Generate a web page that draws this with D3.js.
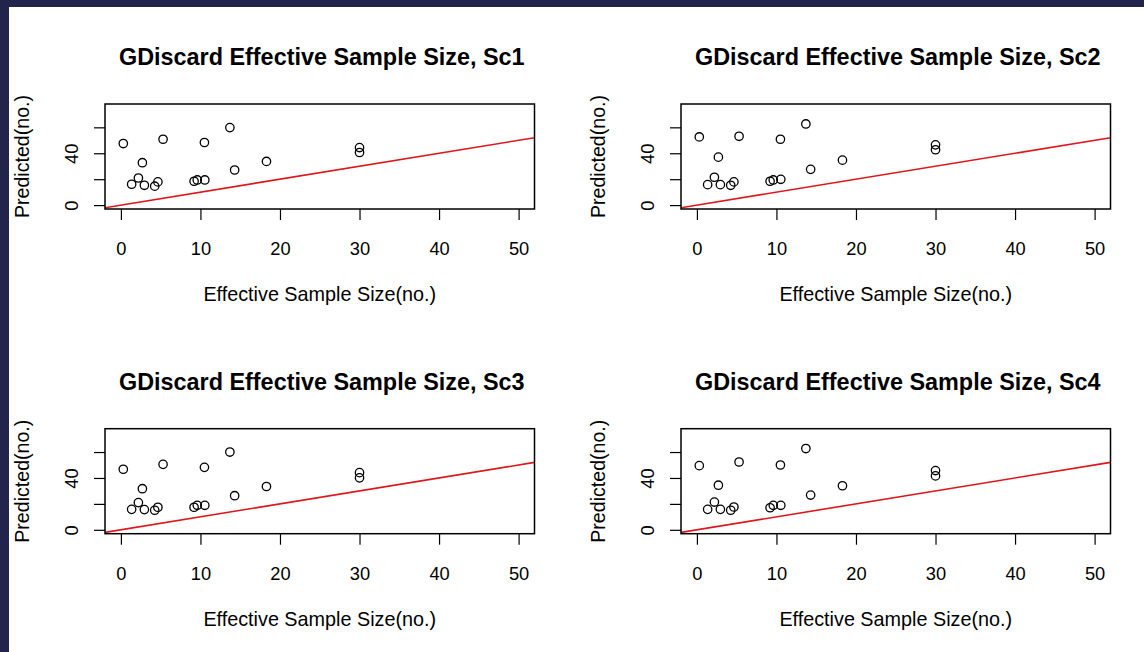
<!DOCTYPE html>
<html>
<head>
<meta charset="utf-8">
<script src="https://cdn.jsdelivr.net/npm/d3@7"></script>
<style>
  html, body { margin: 0; padding: 0; background: #22244b; }
  #chart { position: absolute; left: 9px; top: 7px; width: 1135px; height: 645px; background: #fff; }
  svg { display: block; }
  text { font-family: "Liberation Sans", Arial, sans-serif; fill: #000; }
</style>
</head>
<body>
<div id="chart"></div>
<script>
(function() {
    const width = 1144
    const height = 652

    // effective sample size (same for every scenario)
    const sampleSize = [0.3, 5.3, 10.5, 13.7, 2.7, 18.3, 14.3, 30, 30, 2.2, 1.35, 2.95, 4.25, 4.65, 9.2, 9.6, 10.55]
    // predicted values per scenario
    const predSc1 = [47.5, 50.8, 48.3, 59.8, 32.7, 33.7, 27.1, 44.4, 40.6, 20.9, 16.1, 15.3, 14.6, 17.9, 18.4, 19.4, 19.4]
    const predSc2 = [52.6, 53.1, 50.8, 62.6, 37.0, 34.7, 27.6, 46.5, 42.7, 21.5, 15.8, 15.8, 15.3, 17.9, 18.4, 19.4, 19.9]
    const predSc3 = [46.7, 50.5, 48.2, 60.0, 31.7, 33.4, 26.3, 44.1, 40.1, 21.0, 15.8, 15.6, 15.1, 17.4, 17.4, 18.9, 18.9]
    const predSc4 = [49.5, 52.3, 50.0, 62.7, 34.4, 34.0, 26.8, 45.7, 41.6, 21.4, 15.8, 15.8, 15.1, 17.6, 17.0, 18.9, 18.9]

    const titles = ['GDiscard Effective Sample Size, Sc1', 'GDiscard Effective Sample Size, Sc2',
                    'GDiscard Effective Sample Size, Sc3', 'GDiscard Effective Sample Size, Sc4']
    const xTicks = [0, 10, 20, 30, 40, 50]
    const yTicks = [0, 20, 40, 60]
    const yTickLabels = {0: '0', 40: '40'}
    const xDomain = [0, 50]
    const yDomain = [0, 75]

    const series = [predSc1, predSc2, predSc3, predSc4]

    // panel boxes in page coords
    const boxW = 429.5
    const boxH = 105
    const lefts = [105, 681]
    const tops = [104, 428.7]

    const svg = d3.select('#chart')
        .append('svg')
        .attr('width', width)
        .attr('height', height)
        .style('position', 'absolute')
        .style('left', '-9px')
        .style('top', '-7px')

    // R style 4% padding
    function pad(d) {
        const r = d[1] - d[0]
        return [d[0] - 0.04 * r, d[1] + 0.04 * r]
    }

    series.forEach((ys, i) => {
        const left = lefts[i % 2]
        const top = tops[Math.floor(i / 2)]

        const x = d3.scaleLinear().domain(pad(xDomain)).range([0, boxW])
        const y = d3.scaleLinear().domain(pad(yDomain)).range([boxH, 0])

        const g = svg.append('g')
            .attr('transform', 'translate(' + left + ',' + top + ')')

        g.append('text')
            .attr('x', boxW / 2 + 2)
            .attr('y', -39)
            .attr('text-anchor', 'middle')
            .style('font-size', '23.4px')
            .style('font-weight', 'bold')
            .text(titles[i])

        // x axis
        const xAxis = g.append('g')
            .attr('transform', 'translate(0,' + boxH + ')')
            .call(d3.axisBottom(x).tickValues(xTicks).tickSize(11).tickFormat(d3.format('d')))
        xAxis.select('.domain').remove()
        xAxis.selectAll('line').attr('stroke', '#000').attr('stroke-width', 1.2)
        xAxis.selectAll('text')
            .attr('y', 46)
            .attr('dy', 0)
            .style('font-size', '18.3px')
            .attr('fill', '#000')

        // y axis
        const yAxis = g.append('g')
            .call(d3.axisLeft(y).tickValues(yTicks).tickSize(11).tickFormat(d => yTickLabels[d] || ''))
        yAxis.select('.domain').remove()
        yAxis.selectAll('line').attr('stroke', '#000').attr('stroke-width', 1.2)
        yAxis.selectAll('text')
            .attr('x', 0)
            .attr('dy', 0)
            .attr('text-anchor', 'middle')
            .attr('transform', 'translate(-27,0) rotate(-90)')
            .style('font-size', '18.3px')
            .attr('fill', '#000')

        g.append('text')
            .attr('x', boxW / 2)
            .attr('y', boxH + 92)
            .attr('text-anchor', 'middle')
            .style('font-size', '19.8px')
            .text('Effective Sample Size(no.)')

        g.append('text')
            .attr('transform', 'translate(-76,' + (boxH / 2) + ') rotate(-90)')
            .attr('text-anchor', 'middle')
            .style('font-size', '19.6px')
            .text('Predicted(no.)')

        // clip for the 1:1 line
        const clipId = 'clip' + i
        g.append('clipPath').attr('id', clipId)
            .append('rect').attr('width', boxW).attr('height', boxH)

        const lo = pad(xDomain)[0], hi = pad(xDomain)[1]
        g.append('line')
            .attr('clip-path', 'url(#' + clipId + ')')
            .attr('x1', x(lo)).attr('y1', y(lo))
            .attr('x2', x(hi)).attr('y2', y(hi))
            .attr('stroke', '#e0161b')
            .attr('stroke-width', 1.6)

        g.selectAll('circle.pt')
            .data(ys.map((v, j) => [sampleSize[j], v]))
            .join('circle')
            .attr('class', 'pt')
            .attr('cx', d => x(d[0]))
            .attr('cy', d => y(d[1]))
            .attr('r', 4.2)
            .attr('fill', 'none')
            .attr('stroke', '#000')
            .attr('stroke-width', 1.3)

        g.append('rect')
            .attr('width', boxW)
            .attr('height', boxH)
            .attr('fill', 'none')
            .attr('stroke', '#000')
            .attr('stroke-width', 1.5)
    })
}())
</script>
</body>
</html>
